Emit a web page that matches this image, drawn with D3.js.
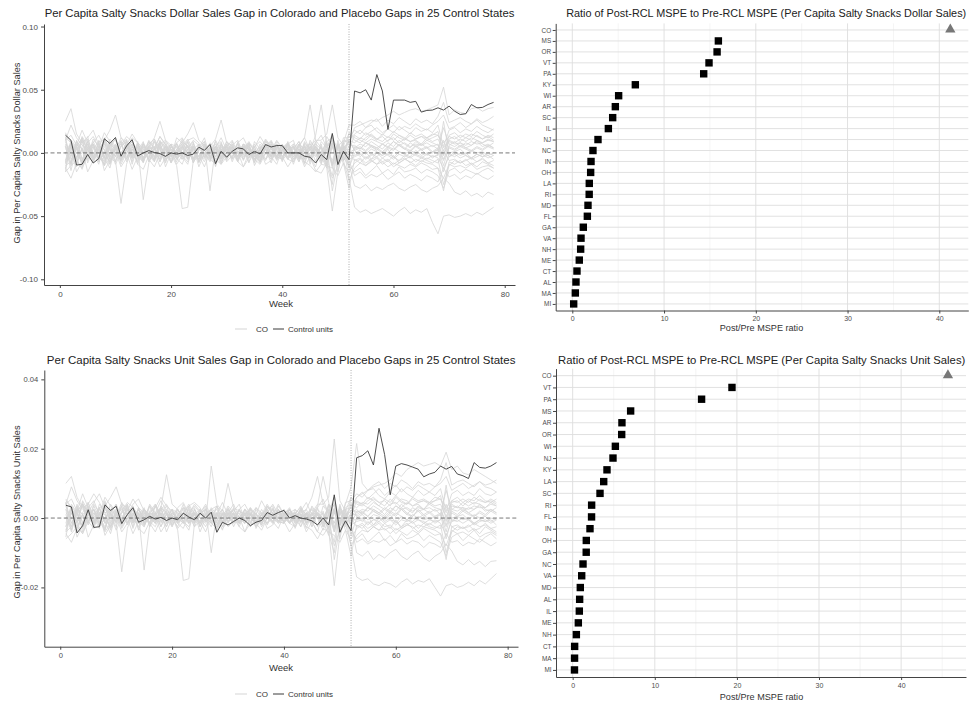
<!DOCTYPE html>
<html lang="en">
<head>
<meta charset="utf-8">
<title>Salty snacks synthetic control gaps</title>
<script src="https://d3js.org/d3.v7.min.js" charset="utf-8"></script>
<style>
  body { margin: 0; background: #fff; font-family: 'Liberation Sans', Arial, sans-serif; }
</style>
</head>
<body>
<div id="chart"></div>
<script>
// ---- data ----
var weeks = d3.range(1, 79);
var treatedWeek = 52;

// Colorado gap, per capita dollar sales (weeks 1..78)
var coDollar = [
  0.0141,0.0100,-0.0096,-0.0090,-0.0012,-0.0080,-0.0045,0.0112,0.0075,0.0122,
  -0.0026,0.0055,0.0105,-0.0025,0.0000,0.0018,0.0003,-0.0005,-0.0027,0.0000,
  -0.0010,0.0000,-0.0020,-0.0010,0.0045,0.0020,0.0066,-0.0085,0.0013,-0.0034,
  0.0013,0.0040,0.0032,-0.0013,0.0013,-0.0008,0.0066,0.0047,0.0058,0.0058,
  0.0000,0.0000,0.0000,-0.0026,-0.0034,-0.0080,-0.0013,-0.0053,0.0154,-0.0092,
  0.0013,-0.0053,0.0490,0.0475,0.0500,0.0418,0.0620,0.0490,0.0186,0.0418,
  0.0418,0.0418,0.0400,0.0408,0.0323,0.0336,0.0339,0.0357,0.0339,0.0370,
  0.0330,0.0304,0.0310,0.0383,0.0357,0.0360,0.0383,0.0400
];

// Colorado gap, per capita unit sales (weeks 1..78)
var coUnit = [
  0.0037,0.0032,-0.0043,-0.0022,0.0024,-0.0027,-0.0025,0.0038,0.0022,0.0034,
  -0.0016,0.0010,0.0030,-0.0012,-0.0005,0.0005,-0.0003,0.0002,-0.0007,0.0000,
  -0.0005,0.0014,0.0003,-0.0005,0.0014,0.0000,0.0017,-0.0041,-0.0012,-0.0020,
  -0.0010,0.0000,-0.0007,-0.0022,-0.0012,-0.0007,0.0016,0.0008,0.0016,0.0022,
  0.0000,0.0007,0.0000,-0.0003,-0.0008,-0.0020,0.0000,-0.0020,0.0067,-0.0041,
  -0.0008,-0.0036,0.0174,0.0180,0.0194,0.0153,0.0259,0.0183,0.0067,0.0150,
  0.0157,0.0153,0.0147,0.0141,0.0119,0.0127,0.0132,0.0150,0.0141,0.0149,
  0.0127,0.0122,0.0114,0.0160,0.0146,0.0144,0.0150,0.0160
];

// placebo gaps, dollar sales, in thousandths (25 control states x 78 weeks)
var placeboDollarMilli = [
  [25,35,15,8,12,18,6,-3,9,4,-6,2,12,8,-4,5,-7,10,3,-5,8,-2,6,-8,4,12,-3,-9,7,2,-5,9,-2,6,-7,3,11,5,-6,1,7,10,-4,8,2,14,38,6,-9,5,10,8,
   20,22,24,26,25,28,30,33,30,32,34,35,33,34,36,38,52,30,34,32,31,35,36,33,35,36],
  [-12,6,-15,-7,9,-4,3,-10,8,-6,-40,-9,5,-3,8,-1,-6,9,2,-8,1,6,-4,8,-7,-2,4,-10,6,1,-4,8,-6,3,-1,-8,6,-2,4,-7,9,-1,-5,6,-9,3,-2,-10,5,-4,8,-12,
   5,3,8,6,4,7,5,9,6,8,5,7,6,10,8,6,-2,9,7,8,6,9,7,8,10,9],
  [6,-14,5,11,-8,3,9,-6,-1,7,-4,10,-9,5,-37,-8,3,9,-6,0,7,-3,6,-8,2,9,-5,1,8,-4,5,-7,2,8,-10,-1,6,-3,7,-6,0,3,9,-8,5,-2,-4,8,-12,5,-6,-22,
   -12,-8,-10,-6,-9,-7,-11,-8,-10,-12,-9,-11,-8,-10,-13,-12,-20,-9,-11,-10,-12,-9,-13,-11,-10,-12],
  [16,8,-5,12,4,-7,10,2,-9,6,-1,5,-4,9,-7,3,5,-5,7,-1,-10,-44,-43,-6,3,7,-3,5,-8,0,9,-5,3,-4,7,-1,-6,5,-3,2,7,-5,-1,5,-4,9,-8,3,-6,7,1,10,
   15,18,14,17,20,16,19,22,18,21,19,23,20,18,22,25,30,19,21,24,20,23,26,22,20,18],
  [-8,10,5,-9,3,7,-5,12,-3,5,9,-7,3,-1,7,-5,11,3,-8,5,0,-3,9,-6,3,7,-30,5,-3,9,1,-6,7,3,-8,5,-1,9,-3,-5,7,0,3,-9,5,2,-6,1,8,-3,5,-9,
   -26,-28,-25,-30,-27,-29,-26,-24,-28,-30,-27,-25,-29,-31,-28,-26,-20,-24,-31,-33,-30,-34,-32,-35,-31,-33],
  [5,-8,9,3,-6,7,0,-10,5,11,-3,7,-5,1,9,-7,3,5,-3,7,-5,0,3,9,-8,5,1,-3,7,-5,3,0,5,-8,9,3,-5,0,7,-3,5,-9,3,1,-6,7,3,-12,-46,-15,5,-20,
   -43,-47,-45,-48,-46,-44,-47,-50,-46,-43,-48,-45,-47,-44,-55,-64,-50,-49,-51,-50,-48,-50,-47,-49,-46,-43],
  [10,22,12,6,3,8,14,5,-4,-7,6,13,9,1,-6,7,11,-2,5,-8,3,9,5,-4,7,-1,-6,10,2,6,-4,8,12,3,-2,-6,5,9,-4,3,8,-1,5,-5,10,3,-6,13,5,-8,9,10,
   8,12,10,14,11,13,9,15,12,10,14,11,13,12,15,14,8,13,11,14,12,15,13,11,14,12],
  [-6,9,3,-8,5,-1,7,-4,11,5,-6,3,9,0,-8,5,3,13,7,-3,12,8,15,24,10,6,-4,5,9,-6,3,7,-1,-4,5,9,3,-8,5,0,3,7,-5,9,2,-3,5,-8,12,3,-6,0,
   3,5,2,6,4,1,5,3,7,4,2,6,3,5,1,4,-10,5,3,6,4,2,5,3,6,4],
  [0,7,-5,10,4,-3,9,10,18,30,12,8,-4,7,-1,5,12,25,10,6,-5,3,10,12,8,-4,5,11,26,8,6,-5,3,9,0,-7,5,10,2,-5,7,-1,5,12,38,10,4,-3,7,-9,3,10,
   2,-3,1,-5,0,-2,3,-4,1,-1,-3,2,-2,0,-4,-1,10,-3,1,-2,0,-4,-1,-3,0,-2],
  [9,-3,5,12,0,7,-5,10,3,-7,5,9,-1,-6,7,3,-4,9,5,0,-7,5,11,2,-5,7,-1,9,-4,5,10,0,-5,7,3,-4,9,5,-1,7,-5,3,9,0,5,10,10,15,38,12,6,15,
   10,8,12,15,11,9,13,10,14,12,9,11,13,10,12,14,4,11,13,9,12,10,14,11,13,10],
  [-12,-20,-8,4,-15,-6,3,-10,-4,6,-9,0,-13,-3,5,-7,1,-11,-4,3,-9,-2,-7,5,-11,0,-5,-9,3,-7,-2,1,-11,-4,5,-7,0,-3,-9,3,-5,-7,1,-11,-3,-14,-16,-8,-20,-10,-4,-10,
   -15,-12,-18,-14,-10,-16,-13,-17,-11,-15,-14,-12,-16,-13,-15,-18,-28,-14,-12,-16,-13,-15,-17,-14,-12,-15],
  [-15,-10,-6,-12,-2,-8,5,-14,-6,1,-11,-4,3,-9,-13,-2,-7,5,-11,0,-4,-9,3,-7,-2,-11,1,-5,-9,-3,5,-7,-11,0,-5,3,-9,-6,1,-3,-11,-4,0,-7,-10,-15,-9,-10,-12,-18,-8,-28,
   -5,-8,-3,-6,-9,-4,-7,-2,-8,-5,-3,-7,-4,-6,-8,-5,-25,-10,-6,-8,-5,-9,-7,-4,-8,-10],
  [10,14,6,18,8,13,4,16,9,2,12,6,15,8,-1,10,4,13,6,2,8,12,4,10,6,-1,8,4,12,2,6,10,-1,8,4,13,6,2,10,4,8,-1,6,12,2,8,14,4,10,-6,12,12,
   18,15,20,22,17,14,19,16,21,18,15,20,17,19,16,22,5,18,20,16,19,17,21,18,16,19],
  [0,-9,10,-5,3,7,-7,0,5,-3,9,-5,3,0,-7,5,9,-3,0,7,-5,3,-3,5,0,-7,3,7,-5,0,5,-3,3,-7,0,5,3,-5,7,0,-3,5,-5,3,7,0,-9,5,10,-6,3,-12,
   0,2,-1,3,1,-2,0,4,1,-1,2,0,3,-2,1,2,-15,0,1,3,-1,2,0,1,-2,0],
  [12,8,-5,13,6,0,-9,11,4,-3,10,3,-7,8,4,0,-5,7,10,3,-3,8,0,5,-7,3,7,-5,0,9,5,-3,7,0,-5,3,10,5,-3,7,0,5,-7,3,8,5,0,-5,-18,8,-6,6,
   6,3,8,5,2,7,4,9,6,3,8,5,7,4,6,3,20,7,5,8,4,6,9,5,7,4],
  [-10,-7,6,-11,3,-5,8,-3,-12,5,-7,0,7,-9,3,-5,-11,0,5,-7,3,-3,-9,7,0,-5,3,-11,5,-3,0,-7,5,3,-5,-9,0,7,-3,-5,3,0,-7,5,-3,-11,7,-10,-25,6,-9,-15,
   -8,-5,-10,-7,-4,-9,-6,-11,-8,-5,-7,-10,-6,-8,-9,-12,-30,-7,-9,-6,-10,-8,-11,-7,-9,-12],
  [7,0,-11,5,13,-5,3,9,-7,0,5,11,-3,7,0,-5,9,3,-7,5,0,11,-3,5,-5,3,7,0,-9,5,3,-3,7,5,-5,0,9,3,-3,5,0,-7,7,3,-5,5,0,9,-10,10,-4,16,
   12,10,8,11,9,7,10,12,8,11,9,10,7,12,9,11,2,10,8,11,9,12,10,8,11,9],
  [-7,5,-3,0,9,-7,5,-5,3,-9,0,5,-3,7,-5,0,3,-7,5,-3,7,0,-5,3,-3,5,0,-7,3,5,-5,0,7,-3,3,0,-5,5,-3,0,7,-3,3,-5,0,5,-7,3,-10,6,0,-5,
   -3,-1,-5,-2,0,-4,-1,-3,-6,-2,-4,-1,-3,-5,-2,-4,-12,-3,-1,-4,-2,-5,-3,-1,-4,-2],
  [13,-10,7,3,-5,9,0,-7,5,11,-3,3,7,-5,0,9,-3,5,0,-7,3,7,-5,0,5,9,-3,3,-5,7,0,-3,5,3,-7,0,5,-3,9,3,-5,0,7,-3,5,0,-5,7,-30,-8,4,8,
   4,7,5,9,6,3,8,5,10,7,4,9,6,8,5,7,-5,6,9,5,8,6,10,7,5,8],
  [3,7,-5,-13,0,5,-3,-9,7,0,-5,3,9,-3,-7,5,0,-5,3,7,-3,0,5,-5,3,0,-7,5,3,-3,0,5,-5,3,0,-3,7,0,-5,3,5,-3,0,5,-7,3,0,-9,8,-10,4,-2,
   -2,0,-4,-1,-3,1,-2,-5,-1,-3,0,-2,-4,-1,-3,-2,25,-1,-3,0,-2,-4,-1,-3,-2,-5],
  [-15,9,0,-7,7,-3,5,3,-9,5,0,-5,7,3,-3,0,5,-7,3,0,-3,5,0,-5,7,-3,0,3,-7,5,0,-3,3,7,-5,0,3,-3,5,0,-5,7,3,-3,0,5,-3,-12,6,-15,5,-6,
   -18,-15,-20,-17,-19,-16,-21,-18,-15,-20,-17,-19,-22,-18,-20,-23,-12,-19,-17,-21,-18,-20,-16,-19,-21,-18],
  [5,0,9,-5,-3,11,5,0,-7,3,7,-3,0,5,-5,9,3,-3,0,7,5,-5,0,3,-3,7,0,5,-5,3,0,7,-3,0,5,-5,3,0,7,-3,3,5,-3,0,5,-7,9,4,15,-4,8,22,
   22,25,20,24,27,21,26,23,28,25,22,27,24,26,23,29,40,24,26,28,25,23,27,24,26,29],
  [-9,3,5,-7,11,0,-5,7,3,-3,-5,9,0,-7,5,3,-3,7,-5,0,5,-3,9,0,-5,3,7,-3,0,5,-7,3,0,5,-3,7,0,-5,3,5,-3,0,7,-5,3,0,5,-7,8,-9,-3,10,
   2,4,1,5,3,0,4,2,6,3,1,5,2,4,0,3,-6,4,2,5,3,1,4,2,5,3],
  [0,5,-7,3,7,-3,0,9,-5,3,0,7,-3,5,-5,0,3,7,-3,5,0,-5,3,5,-7,0,5,3,-3,0,7,-3,5,0,-5,3,7,0,-3,5,3,-5,0,7,-3,5,0,9,12,-6,6,0,
   -6,-4,-8,-5,-3,-7,-5,-9,-6,-4,-8,-5,-7,-4,-6,-8,2,-6,-5,-8,-6,-4,-7,-5,-8,-6],
  [11,-5,3,9,-3,5,-7,0,7,3,-5,0,5,-3,7,0,-5,3,9,-3,0,5,-5,3,7,-3,0,5,-3,7,3,-5,0,5,-3,3,0,7,-5,0,3,5,-3,0,7,3,-5,5,-8,7,-6,2,
   14,11,16,13,10,15,12,17,14,11,16,13,15,12,14,17,-2,14,16,12,15,13,17,14,12,15]
];

// placebo gaps, unit sales, in ten-thousandths (25 control states x 78 weeks)
var placeboUnitTenK = [
  [100,120,60,30,40,70,45,15,25,35,-20,10,40,55,20,-15,10,30,15,-15,25,0,25,-10,15,40,5,-20,15,10,-15,25,5,15,-15,10,30,25,-10,5,15,25,-10,15,5,35,120,45,-25,15,25,30,
   60,70,80,90,95,100,110,130,120,140,150,160,150,155,160,150,190,140,150,130,125,140,130,120,110,100],
  [-40,25,-55,-20,30,-10,15,-35,25,-15,-155,-30,15,-10,25,5,-15,30,10,-20,5,15,-10,25,-15,0,15,-30,15,5,-10,25,-15,10,5,-20,15,0,15,-15,25,5,-10,15,-25,10,0,-30,15,-10,20,-20,
   20,15,30,25,15,30,20,35,25,30,20,30,25,40,30,25,-10,35,30,30,25,35,30,30,40,35],
  [25,-40,20,40,-20,10,30,-15,5,25,-10,40,-30,15,-150,-20,15,30,-15,5,25,-10,15,-25,10,30,-15,5,25,-10,15,-15,10,25,-30,0,15,-10,25,-15,5,15,30,-20,15,0,-15,25,-40,15,-15,-80,
   -50,-35,-40,-25,-35,-30,-45,-30,-40,-50,-35,-45,-30,-40,-50,-45,-80,-35,-45,-40,-50,-35,-55,-45,-40,-50],
  [55,30,-15,40,15,-20,40,15,-30,25,5,15,-15,30,-20,10,15,-10,25,5,-35,-180,-175,-15,15,25,-10,15,-25,0,30,-15,10,-15,25,0,-15,15,-10,10,25,-15,0,15,-15,30,-25,10,-15,25,5,20,
   60,75,55,70,85,65,80,95,75,90,80,95,85,75,90,100,120,80,90,100,85,95,105,90,85,75],
  [-25,40,15,-30,10,25,-15,50,-10,15,30,-20,10,0,25,-15,40,10,-25,15,0,-15,30,-15,10,25,-100,15,-10,30,5,-15,25,10,-25,15,0,30,-10,-15,25,0,10,-30,15,10,-15,0,25,-10,15,-15,
   -100,-110,-95,-120,-105,-115,-100,-90,-110,-120,-105,-95,-115,-125,-110,-100,-75,-95,-125,-135,-120,-135,-125,-140,-125,-123],
  [10,-25,30,10,-15,25,0,-30,15,40,-10,25,-15,5,30,-25,10,15,-10,25,-15,0,10,30,-25,15,5,-10,25,-15,10,0,15,-25,30,10,-15,0,25,-10,15,-30,10,5,-15,25,10,-35,-195,-45,10,-80,
   -170,-180,-175,-190,-195,-185,-190,-200,-185,-175,-190,-180,-185,-175,-200,-225,-195,-190,-200,-195,-185,-195,-180,-190,-175,-160],
  [40,90,50,25,15,45,70,30,15,-15,20,45,30,10,-15,20,40,0,20,-20,10,30,20,-10,25,0,-15,35,10,25,-10,25,40,10,0,-15,25,35,-10,10,25,0,15,-15,35,10,-15,40,20,-20,30,40,
   30,45,40,55,45,50,35,60,45,40,55,45,50,45,60,55,30,50,45,55,45,60,50,45,55,45],
  [-15,35,10,-25,15,0,25,-10,40,15,-15,10,30,0,-20,15,10,30,125,40,25,0,15,35,15,-10,25,35,-15,10,25,0,-15,10,30,15,-20,10,0,15,25,-10,30,10,-15,10,-25,40,15,-10,0,10,
   10,20,5,25,15,5,20,10,30,15,5,25,10,20,5,15,-40,20,10,25,15,5,20,10,25,15],
  [0,25,-10,40,15,-15,30,35,60,90,40,30,-10,25,0,15,30,60,35,20,-10,15,35,45,30,-10,150,40,20,100,30,20,10,30,0,-20,15,40,10,-10,25,0,15,25,60,120,40,20,-15,30,10,20,
   5,-10,5,-20,0,-5,10,-15,5,-5,-10,5,-5,0,-15,-5,40,-10,5,-5,0,-15,-5,-10,0,-5],
  [35,-15,15,45,0,25,-15,40,10,-25,15,30,0,-15,25,10,-15,35,15,0,-25,15,40,10,-15,25,0,35,-10,15,40,0,-15,25,10,-15,35,15,0,25,-15,10,35,0,15,40,40,60,228,50,20,60,
   40,35,50,60,45,35,55,40,55,50,35,45,50,40,50,55,15,45,50,35,50,40,55,45,50,40],
  [-45,-70,-30,10,-55,-20,10,-40,-15,20,-30,0,-45,-10,15,-25,5,-40,-15,10,-30,-10,-25,15,-40,0,-15,-30,10,-25,-10,5,-40,-15,15,-25,0,-10,-30,10,-15,-25,5,-40,-10,-40,-50,-25,-80,-35,-10,-40,
   -60,-45,-70,-55,-40,-65,-50,-70,-45,-60,-55,-45,-65,-50,-60,-70,-110,-55,-45,-65,-50,-60,-70,-55,-45,-60],
  [-60,-45,-25,-45,-10,-30,15,-50,-20,5,-40,-15,10,-30,-45,-10,-25,15,-40,0,-15,-30,10,-25,-10,-40,5,-15,-30,-10,15,-25,-40,0,-15,10,-30,-20,5,-10,-40,-15,0,-25,-35,-60,-30,-40,-50,-70,-35,-110,
   -20,-30,-10,-25,-35,-15,-30,-5,-30,-20,-10,-30,-15,-25,-30,-20,-100,-40,-25,-30,-20,-35,-30,-15,-30,-40],
  [40,55,20,70,30,50,10,60,35,5,45,20,55,30,-5,40,15,50,20,5,30,45,10,40,20,-5,30,10,45,10,20,40,-5,30,10,50,20,5,40,10,30,-5,20,45,10,30,55,10,40,-20,45,50,
   70,60,80,85,65,55,75,65,85,70,60,80,65,75,65,85,20,70,80,65,75,65,85,70,65,75],
  [0,-35,40,-15,10,25,-25,0,15,-10,35,-15,10,0,-25,15,35,-10,0,25,-15,10,-15,15,0,-25,10,25,-10,0,15,-10,15,-25,0,15,10,-15,25,0,-10,15,-15,10,25,0,-35,10,40,-20,10,-50,
   0,10,-5,10,5,-10,0,15,5,-5,10,0,10,-5,5,10,-60,0,5,10,-5,10,0,5,-10,0],
  [50,30,-15,50,20,0,-30,45,15,-10,40,10,-25,30,15,0,-15,25,40,10,-15,30,0,15,-25,10,25,-15,0,35,15,-10,25,0,-15,10,40,15,-10,25,0,15,-25,10,30,15,0,-15,-70,35,-25,15,
   25,10,30,20,10,25,15,35,25,10,30,20,25,15,25,10,80,25,20,30,15,25,35,20,25,15],
  [-40,-25,25,-40,10,-15,30,-10,-45,15,-25,0,25,-35,10,-15,-40,0,15,-25,10,-10,-35,25,0,-15,15,-40,15,-10,0,-25,15,10,-15,-35,0,25,-10,-15,15,0,-25,15,-10,-40,20,-45,-100,20,-35,-60,
   -30,-20,-40,-25,-15,-35,-25,-45,-30,-20,-25,-40,-25,-30,-35,-45,-120,-25,-35,-25,-40,-30,-45,-25,-35,-45],
  [25,0,-40,15,45,-15,10,35,-25,0,15,40,-10,25,0,-15,35,10,-25,15,0,40,-10,15,-15,10,25,0,-35,15,10,-15,25,10,-15,0,35,10,-10,15,0,-25,25,10,-15,15,0,35,-35,40,-15,60,
   45,40,30,45,35,25,40,45,30,45,35,40,25,45,35,40,5,40,30,45,35,45,40,30,45,35],
  [-25,15,-10,0,35,-25,15,-15,10,-35,0,15,-10,25,-15,0,10,-25,15,-10,25,0,-15,10,-10,15,0,-25,10,15,-15,0,25,-10,10,0,-15,15,-10,0,25,-10,10,-15,0,15,-25,10,-40,20,0,-20,
   -10,-5,-20,-5,0,-15,-5,-10,-25,-5,-15,-5,-10,-20,-5,-15,-50,-10,-5,-15,-5,-20,-10,-5,-15,-5],
  [45,-35,25,10,-15,35,0,-25,15,40,-10,10,25,-15,0,35,-10,15,0,-25,10,25,-15,0,15,35,-10,10,-15,25,0,-10,15,10,-25,0,15,-10,35,10,-15,0,25,-10,15,0,-15,25,-120,-25,10,30,
   15,25,20,35,25,10,30,20,40,25,15,35,25,30,20,25,-20,25,35,20,30,25,40,25,20,30],
  [10,25,-15,-45,0,15,-10,-35,25,0,-15,10,35,-10,-25,15,0,-15,10,25,-10,0,15,-15,10,0,-25,15,10,-10,0,15,-15,10,0,-10,25,0,-15,10,15,-10,0,15,-25,10,0,-30,25,-40,10,-5,
   -5,0,-15,-5,-10,5,-5,-20,-5,-10,0,-5,-15,-5,-10,-5,95,-5,-10,0,-5,-15,-5,-10,-5,-20],
  [-55,30,0,-25,25,-10,15,10,-35,15,0,-15,25,10,-10,0,15,-25,10,0,-10,15,0,-15,25,-10,0,10,-25,15,0,-10,10,25,-15,0,10,-10,15,0,-15,25,10,-10,0,15,-10,-50,25,-60,20,-25,
   -70,-60,-75,-65,-70,-60,-80,-70,-60,-75,-65,-70,-85,-70,-75,-85,-45,-70,-65,-80,-70,-75,-60,-70,-80,-70],
  [15,0,35,-15,-10,40,15,0,-25,10,25,-10,0,15,-15,35,10,-10,0,25,15,-15,0,10,-10,25,0,15,-15,10,0,25,-10,0,15,-15,10,0,25,-10,10,15,-10,0,15,-25,35,15,60,-15,40,90,
   215,100,80,95,105,85,100,90,110,100,85,105,95,100,90,110,160,95,105,110,100,90,105,95,100,110],
  [-35,15,15,-25,45,0,-15,25,10,-10,-15,35,0,-25,15,10,-10,25,-15,0,15,-10,35,0,-15,10,25,-10,0,15,-25,10,0,15,-10,25,0,-15,10,15,-10,0,25,-15,10,0,15,-25,30,-30,-10,40,
   5,15,5,20,10,0,15,5,25,10,5,20,5,15,0,10,-25,15,5,20,10,5,15,5,20,10],
  [0,15,-25,10,25,-10,0,35,-15,10,0,25,-10,15,-15,0,10,25,-10,15,0,-15,10,15,-25,0,15,10,-10,0,25,-10,15,0,-15,10,25,0,-10,15,10,-15,0,25,-10,15,0,30,45,-20,25,0,
   -25,-15,-30,-20,-10,-25,-20,-35,-25,-15,-30,-20,-25,-15,-25,-30,5,-25,-20,-30,-25,-15,-25,-20,-30,-25],
  [45,-15,10,35,-10,15,-25,0,25,10,-15,0,15,-10,25,0,-15,10,35,-10,0,15,-15,10,25,-10,0,15,-10,25,10,-15,0,15,-10,10,0,25,-15,0,10,15,-10,0,25,10,-15,15,-30,30,-20,5,
   50,40,60,50,35,55,45,65,50,40,60,50,55,45,50,65,-5,50,60,45,55,50,65,50,45,55]
];

// post/pre MSPE ratios, sorted as in the figure (CO is the treated state)
var ratioDollarStates = ["CO","MS","OR","VT","PA","KY","WI","AR","SC","IL","NJ","NC","IN","OH","LA","RI","MD","FL","GA","VA","NH","ME","CT","AL","MA","MI"];
var ratioDollarValues = [41.2,15.92,15.78,14.9,14.32,6.87,5.05,4.69,4.40,3.93,2.80,2.25,2.04,2.00,1.85,1.84,1.71,1.64,1.20,0.95,0.91,0.76,0.51,0.40,0.33,0.15];

var ratioUnitStates = ["CO","VT","PA","MS","AR","OR","WI","NJ","KY","LA","SC","RI","FL","IN","OH","GA","NC","VA","MD","AL","IL","ME","NH","CT","MA","MI"];
var ratioUnitValues = [45.7,19.4,15.7,7.06,6.0,5.97,5.2,4.91,4.18,3.78,3.33,2.31,2.30,2.11,1.66,1.65,1.26,1.10,0.93,0.85,0.81,0.69,0.45,0.24,0.23,0.22];

// ---- drawing ----
var width = 973, height = 702;

var svg = d3.select("#chart").append("svg")
    .attr("width", width)
    .attr("height", height)
    .style("font-family", "'Liberation Sans', Arial, sans-serif");

svg.append("rect").attr("width", width).attr("height", height).attr("fill", "#fff");

function styleAxis(sel, fontSize) {
    sel.select(".domain").attr("stroke", "#444").attr("stroke-width", 1);
    sel.selectAll(".tick line").attr("stroke", "#444");
    sel.selectAll(".tick text").attr("font-size", fontSize).attr("fill", "#4d4d4d")
        .attr("font-family", "'Liberation Sans', Arial, sans-serif");
}

// gap panel: placebo lines in grey, Colorado in dark
function gapPanel(p) {
    var x = d3.scaleLinear().domain([-2.85, 81.85]).range([p.left, p.right]);
    var y = d3.scaleLinear().domain(p.yDomain).range([p.bottom, p.top]);
    var g = svg.append("g");

    var line = d3.line()
        .x(function(d, i) { return x(weeks[i]); })
        .y(function(d) { return y(d); });

    g.append("g").selectAll("path")
        .data(p.placebo)
        .enter().append("path")
        .attr("d", line)
        .attr("fill", "none")
        .attr("stroke", "#d5d5d5")
        .attr("stroke-width", 0.8);

    // reference lines
    g.append("line")
        .attr("x1", p.left).attr("x2", p.right)
        .attr("y1", y(0)).attr("y2", y(0))
        .attr("stroke", "#555").attr("stroke-width", 0.8)
        .attr("stroke-dasharray", "4,2.5");
    g.append("line")
        .attr("x1", x(treatedWeek)).attr("x2", x(treatedWeek))
        .attr("y1", p.top).attr("y2", p.bottom)
        .attr("stroke", "#999").attr("stroke-width", 0.8)
        .attr("stroke-dasharray", "1,1.5");

    g.append("path").datum(p.co)
        .attr("d", line)
        .attr("fill", "none")
        .attr("stroke", "#3a3a3a")
        .attr("stroke-width", 0.9);

    // axes
    var ya = g.append("g").attr("transform", "translate(" + p.left + ",0)")
        .call(d3.axisLeft(y).tickValues(p.yTicks)
            .tickFormat(function(d) { return d.toFixed(2); })
            .tickSize(3).tickSizeOuter(0));
    styleAxis(ya, p.tickFont);
    var xa = g.append("g").attr("transform", "translate(0," + p.bottom + ")")
        .call(d3.axisBottom(x).tickValues([0, 20, 40, 60, 80]).tickSize(3).tickSizeOuter(0));
    styleAxis(xa, p.tickFont);

    // titles
    g.append("text")
        .attr("x", (p.left + p.right) / 2).attr("y", p.titleY)
        .attr("text-anchor", "middle")
        .attr("font-size", p.titleFont).attr("fill", "#222")
        .text(p.title);
    g.append("text")
        .attr("transform", "translate(19.5," + p.yLabelCenter + ") rotate(-90)")
        .attr("text-anchor", "middle")
        .attr("font-size", 9.2).attr("fill", "#333")
        .text(p.yLabel);
    g.append("text")
        .attr("x", 281).attr("y", p.weekY)
        .attr("text-anchor", "middle")
        .attr("font-size", 9.5).attr("fill", "#333")
        .text("Week");

    // legend (labels as in the original figure)
    var lg = g.append("g").attr("transform", "translate(0," + p.legendY + ")");
    lg.append("line").attr("x1", 235).attr("x2", 247).attr("y1", 0).attr("y2", 0)
        .attr("stroke", "#d5d5d5").attr("stroke-width", 1);
    lg.append("text").attr("x", 256).attr("y", 3).attr("font-size", 8).attr("fill", "#333").text("CO");
    lg.append("line").attr("x1", 273).attr("x2", 284).attr("y1", 0).attr("y2", 0)
        .attr("stroke", "#3a3a3a").attr("stroke-width", 1);
    lg.append("text").attr("x", 288).attr("y", 3).attr("font-size", 8).attr("fill", "#333").text("Control units");
}

// ratio panel: dot plot of post/pre MSPE ratios
function ratioPanel(p) {
    var x = d3.scaleLinear().domain(p.xDomain).range([p.left, p.right]);
    var y = d3.scalePoint().domain(p.states).range([p.top, p.bottom]).padding(0.6);
    var g = svg.append("g");

    var minor = [5, 15, 25, 35, 45].filter(function(v) { return v < p.xDomain[1]; });
    g.append("g").selectAll("line").data(minor).enter().append("line")
        .attr("x1", x).attr("x2", x).attr("y1", p.top).attr("y2", p.bottom)
        .attr("stroke", "#ececec").attr("stroke-width", 0.6);
    g.append("g").selectAll("line").data([0, 10, 20, 30, 40]).enter().append("line")
        .attr("x1", x).attr("x2", x).attr("y1", p.top).attr("y2", p.bottom)
        .attr("stroke", "#dedede").attr("stroke-width", 0.9);
    g.append("g").selectAll("line").data(p.states).enter().append("line")
        .attr("x1", p.left).attr("x2", p.right)
        .attr("y1", function(d) { return y(d); }).attr("y2", function(d) { return y(d); })
        .attr("stroke", "#dedede").attr("stroke-width", 0.9);

    var pts = p.states.map(function(s, i) { return { state: s, value: p.values[i] }; });

    g.append("g").selectAll("rect")
        .data(pts.filter(function(d) { return d.state !== "CO"; }))
        .enter().append("rect")
        .attr("x", function(d) { return x(d.value) - 3.7; })
        .attr("y", function(d) { return y(d.state) - 3.7; })
        .attr("width", 7.4).attr("height", 7.4)
        .attr("fill", "#000");

    g.append("g").selectAll("path")
        .data(pts.filter(function(d) { return d.state === "CO"; }))
        .enter().append("path")
        .attr("transform", function(d) { return "translate(" + x(d.value) + "," + (y(d.state) - 0.5) + ")"; })
        .attr("d", d3.symbol(d3.symbolTriangle, 46))
        .attr("fill", "#777");

    var ya = g.append("g").attr("transform", "translate(" + p.left + ",0)")
        .call(d3.axisLeft(y).tickSize(3).tickPadding(1.5).tickSizeOuter(0));
    styleAxis(ya, 6.4);
    var xa = g.append("g").attr("transform", "translate(0," + p.bottom + ")")
        .call(d3.axisBottom(x).tickValues([0, 10, 20, 30, 40]).tickSize(3).tickSizeOuter(0));
    styleAxis(xa, 7);

    g.append("text")
        .attr("x", p.titleX).attr("y", p.titleY)
        .attr("text-anchor", "middle")
        .attr("font-size", p.titleFont).attr("fill", "#222")
        .text(p.title);
    g.append("text")
        .attr("x", 761.5).attr("y", p.xLabelY)
        .attr("text-anchor", "middle")
        .attr("font-size", 9.1).attr("fill", "#333")
        .text("Post/Pre MSPE ratio");
}

gapPanel({
    left: 44, right: 515, top: 24, bottom: 285,
    yDomain: [-0.1045, 0.102], yTicks: [-0.10, -0.05, 0.00, 0.05, 0.10],
    co: coDollar,
    placebo: placeboDollarMilli.map(function(r) { return r.map(function(v) { return v / 1000; }); }),
    title: "Per Capita Salty Snacks Dollar Sales Gap in Colorado and Placebo Gaps in 25 Control States",
    titleFont: 11.3, titleY: 17,
    yLabel: "Gap in Per Capita Salty Snacks Dollar Sales", yLabelCenter: 153,
    tickFont: 8, weekY: 306.5, legendY: 329
});

gapPanel({
    left: 44.3, right: 518, top: 370, bottom: 646.7,
    yDomain: [-0.0371, 0.0427], yTicks: [-0.02, 0.00, 0.02, 0.04],
    co: coUnit,
    placebo: placeboUnitTenK.map(function(r) { return r.map(function(v) { return v / 10000; }); }),
    title: "Per Capita Salty Snacks Unit Sales Gap in Colorado and Placebo Gaps in 25 Control States",
    titleFont: 11.5, titleY: 363.5,
    yLabel: "Gap in Per Capita Salty Snacks Unit Sales", yLabelCenter: 512,
    tickFont: 7.6, weekY: 670.5, legendY: 694
});

ratioPanel({
    left: 555.7, right: 968.3, top: 23.4, bottom: 310.5,
    xDomain: [-1.81, 43.16],
    states: ratioDollarStates, values: ratioDollarValues,
    title: "Ratio of Post-RCL MSPE to Pre-RCL MSPE (Per Capita Salty Snacks Dollar Sales)",
    titleFont: 10.85, titleX: 766.2, titleY: 17,
    xLabelY: 331
});

ratioPanel({
    left: 556, right: 966, top: 368.6, bottom: 677,
    xDomain: [-2.03, 47.9],
    states: ratioUnitStates, values: ratioUnitValues,
    title: "Ratio of Post-RCL MSPE to Pre-RCL MSPE (Per Capita Salty Snacks Unit Sales)",
    titleFont: 11.3, titleX: 761.7, titleY: 364,
    xLabelY: 699.5
});
</script>
</body>
</html>
